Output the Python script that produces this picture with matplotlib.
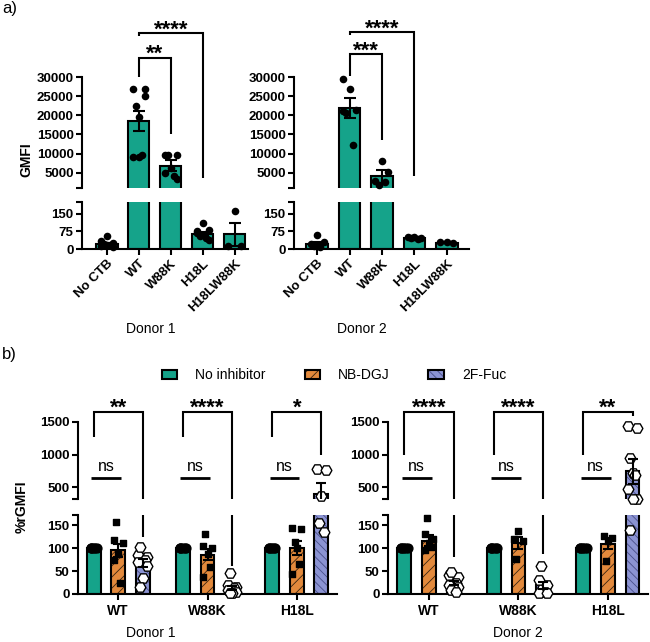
import numpy as np
import matplotlib
matplotlib.use("Agg")
import matplotlib.pyplot as plt
from matplotlib.patches import Patch
from matplotlib.legend_handler import HandlerTuple

plt.rcParams['font.family'] = ['Liberation Sans', 'DejaVu Sans']
plt.rcParams['hatch.linewidth'] = 0.6

# ---------------- data: panel a ----------------
a_categories = ["No CTB", "WT", "W88K", "H18L", "H18LW88K"]
a_d1_mean = [22, 18500, 6800, 65, 62]
a_d1_sem = [5, 2650, 1400, 9, 49]
a_d1_points = [
    [55, 35, 25, 20, 15, 12, 10, 18],
    [19500, 26800, 26800, 22500, 9500, 9000, 25000, 9000],
    [6300, 9700, 9700, 9700, 4200, 5000, 3300],
    [112, 70, 80, 55, 45, 75, 40],
    [160, 12, 12],
]
a_d2_mean = [22, 21900, 4050, 47, 27]
a_d2_sem = [9, 2550, 1750, 2, 1]
a_d2_points = [
    [58, 22, 30, 12, 8],
    [26900, 21000, 21300, 20600, 12300, 29600],
    [8100, 2700, 5300, 1900, 2500],
    [51, 49, 47, 45, 44],
    [29, 28, 26],
]

# ---------------- data: panel b ----------------
b_groups = ["WT", "W88K", "H18L"]
b_series = ["No inhibitor", "NB-DGJ", "2F-Fuc"]
# donor 1
b_d1_noinh_mean = [100, 100, 100]
b_d1_noinh_sem = [0, 0, 0]
b_d1_noinh_points = [[100] * 6, [100] * 6, [100] * 6]
b_d1_dgj_mean = [95, 86, 100]
b_d1_dgj_sem = [14, 13, 16]
b_d1_dgj_points = [[87, 117, 112, 157, 24, 73],
                   [88, 105, 100, 130, 59, 37],
                   [101, 144, 141, 114, 66, 44]]
b_d1_fuc_mean = [67, 13, 400]
b_d1_fuc_sem = [9, 5, 170]
b_d1_fuc_points = [[78, 85, 80, 102, 75, 70, 60, 35, 15],
                   [10, 20, 15, 45, 12, 8, 5, 3, 2],
                   [370, 785, 770, 155, 135]]
# donor 2
b_d2_noinh_mean = [100, 100, 100]
b_d2_noinh_sem = [0, 0, 0]
b_d2_noinh_points = [[100] * 6, [100] * 6, [100] * 6]
b_d2_dgj_mean = [116, 112, 109]
b_d2_dgj_sem = [12, 13, 12]
b_d2_dgj_points = [[112, 130, 120, 165, 102, 95],
                   [137, 120, 115, 76],
                   [115, 127, 122, 72]]
b_d2_fuc_mean = [24, 19, 747]
b_d2_fuc_sem = [5, 8, 190]
b_d2_fuc_points = [[30, 42, 38, 48, 25, 20, 15, 10, 8, 5],
                   [15, 30, 20, 60, 5, 3, 2],
                   [720, 1430, 1400, 950, 690, 470, 330, 325, 140]]

TEAL = "#15a38a"
ORANGE = "#e2893c"
BLUE = "#8b93d2"
BLUE_HATCH = "#4a4f8a"
ORANGE_HATCH = "#3a2410"

W, H = 650, 642
fig = plt.figure(figsize=(W / 100, H / 100), dpi=100)


def add_ax(x0, y0, x1, y1):
    return fig.add_axes([x0 / W, 1 - y1 / H, (x1 - x0) / W, (y1 - y0) / H])


def spread(n, half):
    if n == 1:
        return np.array([0.0])
    pattern = np.array([0, -1, 1, -0.5, 0.5, -1, 1, 0, -0.5, 0.5, 0])
    return pattern[np.arange(n) % len(pattern)] * half


def visible(ax, xs, ys):
    lo, hi = ax.get_ylim()
    xs = np.asarray(xs, float)
    ys = np.asarray(ys, float)
    m = (ys >= lo) & (ys <= hi * 1.02)
    return xs[m], ys[m]


def style_axes(up, lo, fs=9.5):
    for ax in (up, lo):
        for s in ('top', 'right'):
            ax.spines[s].set_visible(False)
        ax.spines['left'].set_linewidth(1.5)
        ax.spines['bottom'].set_linewidth(1.5)
        ax.tick_params(axis='both', length=4, width=1.5, labelsize=fs, pad=2)
        ax.set_facecolor('none')
    up.spines['bottom'].set_visible(False)
    up.tick_params(axis='x', bottom=False, labelbottom=False)


def bold_labels(ax):
    for lb in ax.get_yticklabels() + ax.get_xticklabels():
        lb.set_fontweight('bold')


def bracket(up, lo, x1, x2, ytop, yleft, yright, label, yright_lo=None,
            fs=16, off=-1.5):
    ybot = up.get_ylim()[0]
    up.plot([x1, x1, x2, x2], [yleft, ytop, ytop, max(yright, ybot)],
            color='black', lw=1.5, clip_on=False, zorder=6,
            solid_joinstyle='miter', solid_capstyle='butt')
    if yright_lo is not None:
        lo.plot([x2, x2], [lo.get_ylim()[1], yright_lo], color='black',
                lw=1.5, clip_on=False, zorder=6, solid_capstyle='butt')
    up.annotate(label, xy=((x1 + x2) / 2, ytop), xytext=(0, off),
                textcoords='offset points', ha='center', va='baseline',
                fontsize=fs, fontweight='bold', annotation_clip=False)


# ---------------- panel a ----------------
def draw_a(x0, x1, xlim, means, sems, points, brackets):
    up = add_ax(x0, 77, x1, 188)
    lo = add_ax(x0, 202, x1, 249)
    up.set_ylim(1000, 30000)
    lo.set_ylim(0, 200)
    x = np.arange(len(a_categories))
    for ax in (up, lo):
        yl = ax.get_ylim()
        mm = np.array(means, float)
        hv = np.where(mm > yl[0], mm, np.nan)
        ax.bar(x, hv, width=0.66, color=TEAL, edgecolor='black',
               linewidth=1.5, zorder=2)
        for i, pts in enumerate(points):
            px, py = visible(ax, i + spread(len(pts), 0.2), pts)
            ax.scatter(px, py, s=30, color='black', linewidths=0, zorder=3,
                       clip_on=False)
        ax.errorbar(x, hv, yerr=sems, fmt='none', ecolor='black',
                    elinewidth=1.5, capsize=4, capthick=1.5, zorder=4)
        ax.set_xlim(xlim)
        ax.set_ylim(yl)
    up.set_yticks([1000, 5000, 10000, 15000, 20000, 25000, 30000])
    up.set_yticklabels(['', '5000', '10000', '15000', '20000', '25000', '30000'])
    lo.set_yticks([0, 75, 150, 200])
    lo.set_yticklabels(['0', '75', '150', ''])
    lo.set_xticks(x)
    lo.set_xticklabels(a_categories, rotation=45, ha='right',
                       rotation_mode='anchor')
    style_axes(up, lo)
    bold_labels(up)
    bold_labels(lo)
    for b in brackets:
        bracket(up, lo, *b)
    return up, lo


draw_a(82, 248, (-0.78, 4.41), a_d1_mean, a_d1_sem, a_d1_points,
       [(1, 2, 34950, 30000, 15160, '**'),
        (1, 3, 41460, 40700, 3700, '****')])
draw_a(294, 469, (-0.71, 4.68), a_d2_mean, a_d2_sem, a_d2_points,
       [(1, 2, 35900, 30260, 13600, '***'),
        (1, 3, 41640, 40900, 4040, '****')])

fig.text(26 / W, 1 - 160 / H, 'GMFI', rotation=90, ha='center', va='center',
         fontsize=10, fontweight='bold')
fig.text(151 / W, 1 - 329 / H, 'Donor 1', ha='center', va='center', fontsize=10)
fig.text(362 / W, 1 - 329 / H, 'Donor 2', ha='center', va='center', fontsize=10)
fig.text(2 / W, 1 - 9 / H, 'a)', ha='left', va='center', fontsize=12)

# ---------------- panel b ----------------
OFF = 0.274
BW = 0.156


def draw_bars(ax, xs, means, sems, pts, face, hatch, hatch_color, marker,
              mface, msize, sp):
    yl = ax.get_ylim()
    mm = np.array(means, float)
    hv = np.where(mm > yl[0], mm, np.nan)
    if hatch:
        ax.bar(xs, hv, width=BW, color=face, edgecolor=hatch_color,
               hatch=hatch, linewidth=0, zorder=2)
        ax.bar(xs, hv, width=BW, color='none', edgecolor='black',
               linewidth=1.5, zorder=2.1)
    else:
        ax.bar(xs, hv, width=BW, color=face, edgecolor='black',
               linewidth=1.5, zorder=2)
    for i, p in enumerate(pts):
        px, py = visible(ax, xs[i] + spread(len(p), sp), p)
        ax.scatter(px, py, s=msize, marker=marker, facecolor=mface,
                   edgecolor='black', linewidths=1.0, zorder=3,
                   clip_on=False)
    ax.errorbar(xs, hv, yerr=sems, fmt='none', ecolor='black',
                elinewidth=1.5, capsize=3.5, capthick=1.5, zorder=4)
    ax.set_ylim(yl)


def draw_b(x0, x1, xlim, noinh, dgj, fuc, brackets, left_legs):
    up = add_ax(x0, 421.7, x1, 499.3)
    lo = add_ax(x0, 515, x1, 594)
    up.set_ylim(320, 1500)
    lo.set_ylim(0, 172)
    g = np.arange(len(b_groups))
    for ax in (up, lo):
        draw_bars(ax, g - OFF, noinh[0], noinh[1], noinh[2], TEAL, None,
                  None, 'o', 'black', 40, 0.035)
        draw_bars(ax, g, dgj[0], dgj[1], dgj[2], ORANGE, '///',
                  ORANGE_HATCH, 's', 'black', 24, 0.05)
        draw_bars(ax, g + OFF, fuc[0], fuc[1], fuc[2], BLUE, '\\\\\\\\',
                  BLUE_HATCH, 'H', 'white', 60, 0.05)
        ax.set_xlim(xlim)
    up.set_yticks([320, 500, 1000, 1500])
    up.set_yticklabels(['', '500', '1000', '1500'])
    lo.set_yticks([0, 50, 100, 150, 172])
    lo.set_yticklabels(['0', '50', '100', '150', ''])
    lo.set_xticks(g)
    lo.set_xticklabels(b_groups)
    style_axes(up, lo)
    lo.tick_params(axis='x', labelsize=10, pad=3)
    bold_labels(up)
    bold_labels(lo)
    for i, (lab, yr, yrl) in enumerate(brackets):
        bracket(up, lo, i - OFF, i + OFF, 1647, left_legs, yr, lab,
                yright_lo=yrl, off=-1.5)
        up.plot([i - OFF - 0.03, i + 0.03], [649, 649], color='black', lw=2,
                clip_on=False, zorder=6, solid_capstyle='butt')
        up.annotate('ns', xy=(i - OFF / 2, 649), xytext=(0, 5),
                    textcoords='offset points', ha='center', va='baseline',
                    fontsize=11.5, annotation_clip=False)
    return up, lo


draw_b(78, 337, (-0.45, 2.45),
       (b_d1_noinh_mean, b_d1_noinh_sem, b_d1_noinh_points),
       (b_d1_dgj_mean, b_d1_dgj_sem, b_d1_dgj_points),
       (b_d1_fuc_mean, b_d1_fuc_sem, b_d1_fuc_points),
       [('**', 0, 125), ('****', 0, 60), ('*', 990, None)], 1265)
draw_b(388, 648, (-0.458, 2.447),
       (b_d2_noinh_mean, b_d2_noinh_sem, b_d2_noinh_points),
       (b_d2_dgj_mean, b_d2_dgj_sem, b_d2_dgj_points),
       (b_d2_fuc_mean, b_d2_fuc_sem, b_d2_fuc_points),
       [('****', 0, 81), ('****', 0, 88), ('**', 1580, None)], 994)

fig.text(22 / W, 1 - 507 / H, '%rGMFI', rotation=90, ha='center',
         va='center', fontsize=10, fontweight='bold')
fig.text(151 / W, 1 - 633 / H, 'Donor 1', ha='center', va='center', fontsize=10)
fig.text(518 / W, 1 - 633 / H, 'Donor 2', ha='center', va='center', fontsize=10)
fig.text(2 / W, 1 - 355 / H, 'b)', ha='left', va='center', fontsize=12)

handles = [
    Patch(facecolor=TEAL, edgecolor='black', linewidth=1.5),
    (Patch(facecolor=ORANGE, edgecolor=ORANGE_HATCH, hatch='///', linewidth=0),
     Patch(facecolor='none', edgecolor='black', linewidth=1.5)),
    (Patch(facecolor=BLUE, edgecolor=BLUE_HATCH, hatch='\\\\\\\\', linewidth=0),
     Patch(facecolor='none', edgecolor='black', linewidth=1.5)),
]
fig.legend(handles, b_series, loc='center', bbox_to_anchor=(334 / W, 1 - 375 / H),
           ncol=3, frameon=False, fontsize=10, handlelength=1.1,
           handleheight=0.6, handletextpad=1.3, columnspacing=2.8,
           handler_map={tuple: HandlerTuple(ndivide=1)})

fig.savefig('out.png', dpi=100, facecolor='white')
